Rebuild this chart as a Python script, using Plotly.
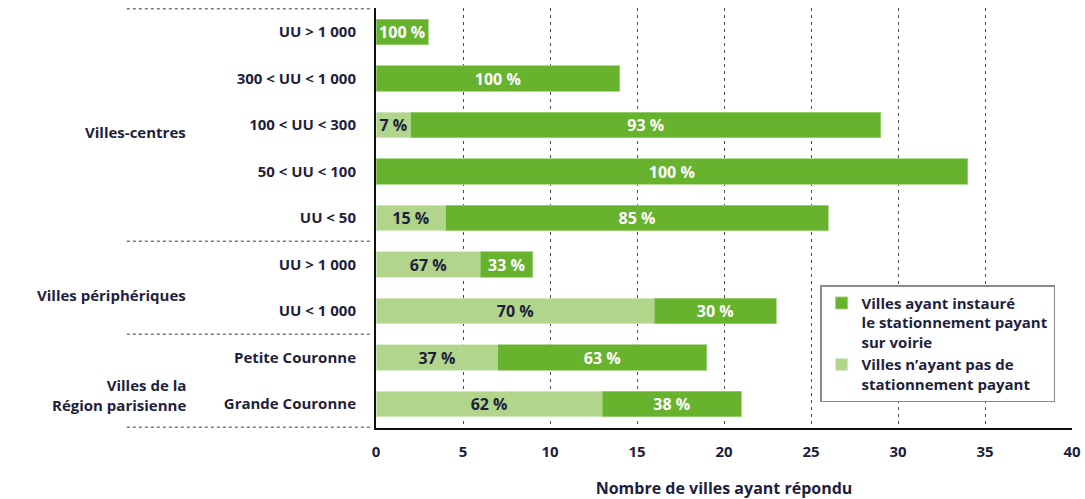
import plotly.graph_objects as go

# Row labels (top to bottom) and their group
row_labels = ["UU > 1 000", "300 < UU < 1 000", "100 < UU < 300", "50 < UU < 100", "UU < 50",
              "UU > 1 000", "UU < 1 000",
              "Petite Couronne", "Grande Couronne"]
row_groups = ["centres"] * 5 + ["peri"] * 2 + ["idf"] * 2

# Number of responding cities per row
payant = [3, 14, 27, 34, 22, 3, 7, 12, 8]       # paid on-street parking
non_payant = [0, 0, 2, 0, 4, 6, 16, 7, 13]      # no paid parking

group_labels = ["Villes-centres", "Villes périphériques", "Villes de la<br>Région parisienne"]
x_ticks = [0, 5, 10, 15, 20, 25, 30, 35, 40]

DARK = "#67b32e"
LIGHT = "#b0d58b"
INK = "#1f1f3d"
FONT = "Open Sans"

ids = [f"{g}|{lab}" for g, lab in zip(row_groups, row_labels)]
totals = [a + b for a, b in zip(payant, non_payant)]


def pct_text(part, total):
    return [f"{round(100 * p / t)} %" if p > 0 else "" for p, t in zip(part, total)]


fig = go.Figure()
fig.add_trace(go.Bar(
    y=ids, x=non_payant, orientation="h",
    name="Villes n’ayant pas de<br>stationnement payant",
    marker=dict(color=LIGHT, line=dict(color="#d8ebc4", width=0.8)),
    text=pct_text(non_payant, totals), textposition="inside",
    insidetextanchor="middle", constraintext="none",
    textfont=dict(family=FONT, size=16, color=INK, weight="bold"),
    legendrank=2,
))
fig.add_trace(go.Bar(
    y=ids, x=payant, orientation="h",
    name="Villes ayant instauré<br>le stationnement payant<br>sur voirie",
    marker=dict(color=DARK, line=dict(color="#9fd27a", width=0.8)),
    text=pct_text(payant, totals), textposition="inside",
    insidetextanchor="middle", constraintext="none",
    textfont=dict(family=FONT, size=16, color="white", weight="bold"),
    legendrank=1,
))

# Dashed separators between row groups, drawn in the label margin
n = len(ids)
bounds = [-0.5]
for i in range(1, n):
    if row_groups[i] != row_groups[i - 1]:
        bounds.append(i - 0.5)
bounds.append(n - 0.5)
for b in bounds:
    fig.add_shape(type="line", xref="paper", yref="y", x0=-0.358, x1=-0.006, y0=b, y1=b,
                  line=dict(color="#7a7a7a", width=1.5, dash="3px,3px"))

# Group titles
group_pos = [2.15, 5.65, 7.8]
for txt, yp in zip(group_labels, group_pos):
    fig.add_annotation(text=txt, xref="paper", yref="y", x=-0.27, y=yp,
                       xanchor="right", yanchor="middle", align="right", showarrow=False,
                       font=dict(family=FONT, size=15, color=INK, weight="bold"))

fig.update_layout(
    width=1085, height=499,
    margin=dict(l=376, r=13, t=8, b=71),
    barmode="stack", bargap=0.46,
    plot_bgcolor="white", paper_bgcolor="white",
    font=dict(family=FONT, size=15, color=INK),
    showlegend=True,
    legend=dict(
        x=0.638, y=0.34, xanchor="left", yanchor="top",
        traceorder="normal",
        bgcolor="white", bordercolor="#8a8a8a", borderwidth=1.5,
        font=dict(family=FONT, size=15, color=INK, weight="bold"),
        valign="top", itemwidth=30, tracegroupgap=4,
    ),
    xaxis=dict(
        range=[0, 40], tickvals=x_ticks, showgrid=True, automargin=False,
        gridcolor="#4a4a4a", griddash="3px,4px", gridwidth=1.4,
        showline=True, linecolor="#111111", linewidth=2, zeroline=False,
        ticks="", ticklabelstandoff=9,
        tickfont=dict(family=FONT, size=15, color=INK, weight="bold"),
        title=dict(text="Nombre de villes ayant répondu", standoff=24,
                   font=dict(family=FONT, size=16, color=INK, weight="bold")),
    ),
    yaxis=dict(
        type="category", categoryorder="array", categoryarray=ids,
        autorange="reversed", tickvals=ids, ticktext=row_labels,
        showgrid=False, showline=True, linecolor="#111111", linewidth=2,
        ticks="", ticklabelstandoff=15, automargin=False,
        tickfont=dict(family=FONT, size=15, color=INK, weight="bold"),
    ),
)

fig.write_html("out.html")
